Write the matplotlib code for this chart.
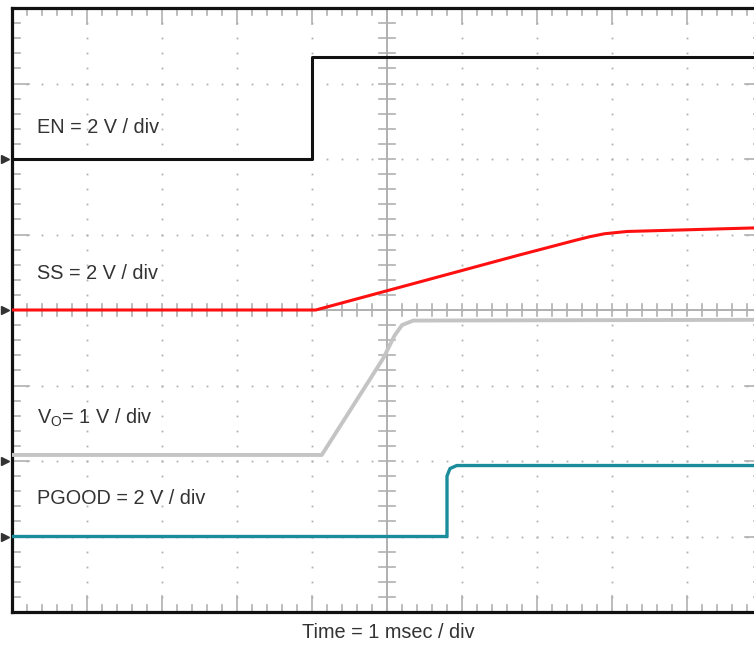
import numpy as np
import matplotlib
matplotlib.use('Agg')
import matplotlib.pyplot as plt

plt.rcParams['font.family'] = ['Liberation Sans', 'DejaVu Sans']

# ── Trace data (time in ms, level in divisions) ──────────────────────────────
en_t = [0.0, 4.0, 4.0, 10.0]
en_v = [6.0, 6.0, 7.35, 7.35]

ss_t = [0.0, 4.05, 6.77, 7.5, 7.7, 7.9, 8.2, 10.0]
ss_v = [4.0, 4.0, 4.73, 4.92, 4.97, 5.01, 5.04, 5.09]

vo_t = [0.0, 4.13, 4.95, 5.1, 5.2, 5.35, 10.0]
vo_v = [2.08, 2.08, 3.36, 3.66, 3.80, 3.86, 3.87]

pg_t = [0.0, 5.8, 5.8, 5.84, 5.93, 10.0]
pg_v = [1.0, 1.0, 1.80, 1.90, 1.94, 1.94]

labels = ["EN = 2 V / div", "SS = 2 V / div",
          r"V$_\mathregular{O}$= 1 V / div", "PGOOD = 2 V / div"]
label_y = [6.42, 4.49, 2.57, 1.50]
marker_y = [6.0, 4.0, 2.0, 1.0]

# ── Palette ──────────────────────────────────────────────────────────────────
COL_EN = "#111111"
COL_SS = "#ff1010"
COL_VO = "#c4c4c4"
COL_PG = "#1a8c9c"
COL_GRID = "#b0b0b0"
COL_TXT = "#333333"

W, H = 754, 646
fig = plt.figure(figsize=(W / 100, H / 100), dpi=100, facecolor='white')
ax = fig.add_axes([12 / W, 34 / H, 750 / W, 604 / H])
ax.set_xlim(0, 10)
ax.set_ylim(0, 8)
ax.set_xticks([])
ax.set_yticks([])
for s in ax.spines.values():
    s.set_linewidth(2.3)
    s.set_color("#111111")

px_x = 10 / 750.0   # data per pixel, x
px_y = 8 / 604.0    # data per pixel, y

# ── Dotted grid ──────────────────────────────────────────────────────────────
minor_x = np.arange(0, 10.01, 0.2)
minor_y = np.arange(0, 8.01, 0.2)
for gx in range(1, 10):
    if gx == 5:
        continue
    ax.plot(np.full_like(minor_y, gx), minor_y, ls='none', marker='s',
            ms=1.3, color=COL_GRID, mew=0)
for gy in range(1, 8):
    if gy == 4:
        continue
    ax.plot(minor_x, np.full_like(minor_x, gy), ls='none', marker='s',
            ms=1.3, color=COL_GRID, mew=0)

# ── Centre cross with ticks ──────────────────────────────────────────────────
ax.axvline(5, color=COL_GRID, lw=1.4, zorder=1)
ax.axhline(4, color=COL_GRID, lw=1.4, zorder=1)
for yy in minor_y:
    ax.plot([5 - 8 * px_x, 5 + 8 * px_x], [yy, yy], color=COL_GRID, lw=1.2)
for xx in minor_x:
    ax.plot([xx, xx], [4 - 6 * px_y, 4 + 6 * px_y], color=COL_GRID, lw=1.2)

# ── Frame ticks ──────────────────────────────────────────────────────────────
for xx in minor_x:
    major = abs(xx - round(xx)) < 1e-6
    L = (16 if major else 7) * px_y
    ax.plot([xx, xx], [8, 8 - L], color=COL_GRID, lw=1.2)
    ax.plot([xx, xx], [0, L], color=COL_GRID, lw=1.2)
for yy in minor_y:
    major = abs(yy - round(yy)) < 1e-6
    L = (17 if major else 8) * px_x
    ax.plot([0, L], [yy, yy], color=COL_GRID, lw=1.2)
    ax.plot([10, 10 - L], [yy, yy], color=COL_GRID, lw=1.2)

# ── Traces ───────────────────────────────────────────────────────────────────
ax.plot(vo_t, vo_v, color=COL_VO, lw=2.8, zorder=5, solid_joinstyle='round')
ax.plot(ss_t, ss_v, color=COL_SS, lw=2.2, zorder=6, solid_joinstyle='round')
ax.plot(pg_t, pg_v, color=COL_PG, lw=2.4, zorder=6, solid_joinstyle='round')
ax.plot(en_t, en_v, color=COL_EN, lw=2.2, zorder=7)

# ── Channel ground markers ───────────────────────────────────────────────────
ax.plot(np.full(len(marker_y), -7 * px_x), marker_y, ls='none', marker='>',
        ms=5.5, color="#333333", clip_on=False, zorder=8)

# ── Labels ───────────────────────────────────────────────────────────────────
for txt, ly in zip(labels, label_y):
    ax.text(25 * px_x, ly, txt, color=COL_TXT, fontsize=14.3,
            ha='left', va='center', zorder=9)

fig.text(388 / W, 1 - 633 / H, "Time = 1 msec / div", color=COL_TXT,
         fontsize=14.3, ha='center', va='center')

fig.savefig("out.png", dpi=100, facecolor='white')
